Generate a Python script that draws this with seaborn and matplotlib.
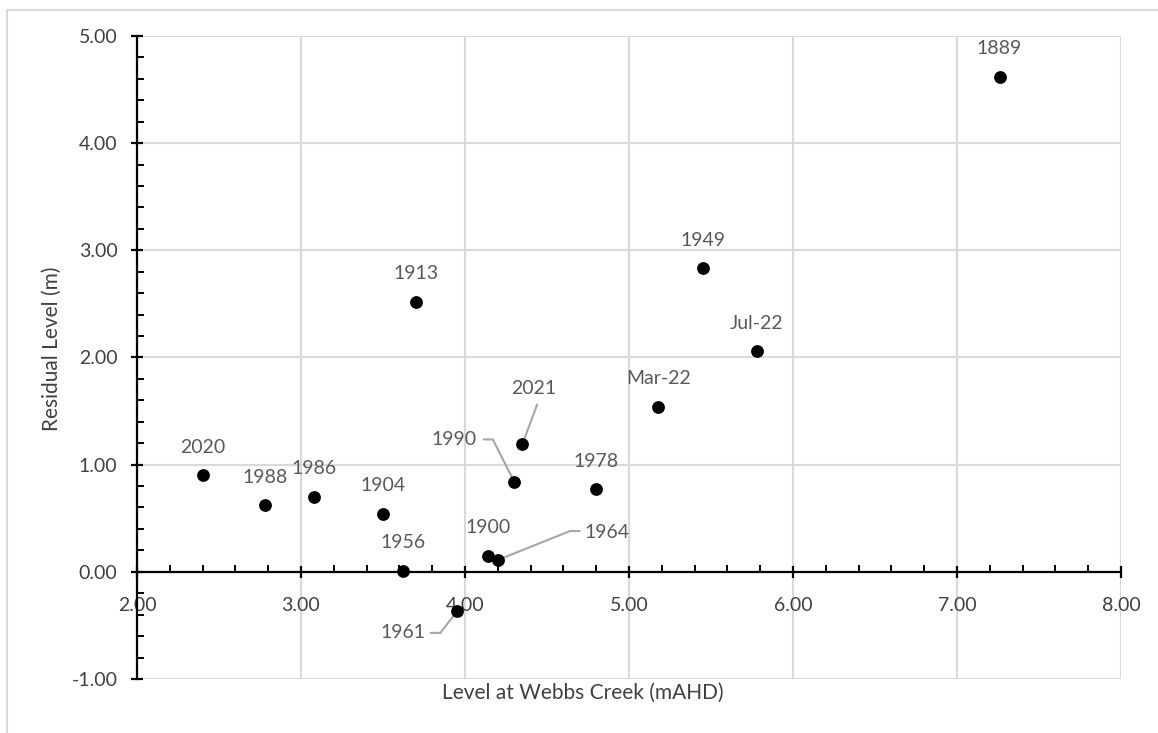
import pandas as pd
import matplotlib.pyplot as plt
import matplotlib.patches as mpatches
from matplotlib.ticker import MultipleLocator, FormatStrFormatter
import seaborn as sns

# events: level at Webbs Creek (mAHD) vs residual level (m)
labels = ['2020', '1988', '1986', '1904', '1956', '1961', '1900', '1964',
          '1990', '2021', '1978', 'Mar-22', '1949', 'Jul-22', '1913', '1889']
webbs_level = [2.40, 2.78, 3.08, 3.50, 3.62, 3.95, 4.14, 4.20,
               4.30, 4.35, 4.80, 5.18, 5.45, 5.78, 3.70, 7.26]
residual = [0.90, 0.62, 0.70, 0.54, 0.01, -0.37, 0.15, 0.11,
            0.84, 1.19, 0.77, 1.54, 2.83, 2.06, 2.52, 4.62]

# labels that sit away from their point with a leader line: text position + elbow
leader_labels = {
    '1990': ((4.07, 1.235), 'right', [(4.115, 1.235), (4.17, 1.235)]),
    '2021': ((4.42, 1.71), 'center', [(4.44, 1.56)]),
    '1964': ((4.73, 0.37), 'left', [(4.70, 0.38), (4.64, 0.38)]),
    '1961': ((3.76, -0.57), 'right', [(3.79, -0.57), (3.85, -0.57)]),
}

df = pd.DataFrame({'label': labels, 'x': webbs_level, 'y': residual})

sns.set_style("white")
plt.rcParams['font.family'] = ['Lato', 'DejaVu Sans']

fig = plt.figure(figsize=(11.58, 7.33), dpi=100)
ax = fig.add_axes([0.1183, 0.0737, 0.968 - 0.1183, 0.951 - 0.0737])

# outer chart border
fig.patches.append(mpatches.Rectangle((7 / 1158, -0.1), 1.2, 1.1 - 10 / 733,
                                      transform=fig.transFigure, fill=False,
                                      edgecolor='#d9d9d9', linewidth=1.5))

sns.scatterplot(data=df, x='x', y='y', ax=ax, color='black', s=85,
                edgecolor='black', linewidth=0, zorder=5)

ax.set_xlim(2, 8)
ax.set_ylim(-1, 5)
ax.xaxis.set_major_locator(MultipleLocator(1))
ax.xaxis.set_minor_locator(MultipleLocator(0.2))
ax.yaxis.set_major_locator(MultipleLocator(1))
ax.yaxis.set_minor_locator(MultipleLocator(0.2))
ax.xaxis.set_major_formatter(FormatStrFormatter('%.2f'))
ax.yaxis.set_major_formatter(FormatStrFormatter('%.2f'))

ax.grid(True, which='major', color='#d9d9d9', linewidth=1.5, zorder=0)
ax.set_axisbelow(True)
ax.spines['top'].set_visible(False)
ax.spines['right'].set_visible(False)
ax.spines['bottom'].set_position(('data', 0))
for sp in ('left', 'bottom'):
    ax.spines[sp].set_color('black')
    ax.spines[sp].set_linewidth(1.6)
    ax.spines[sp].set_zorder(4)

ax.tick_params(which='both', bottom=True, left=True, top=False, right=False)
ax.tick_params(which='major', direction='inout', length=8, width=1.6,
               color='black', labelsize=14, labelcolor='#404040')
ax.tick_params(which='minor', direction='in', length=5, width=1.4, color='black')
ax.tick_params(axis='y', which='major', pad=10)
ax.tick_params(axis='x', which='major', pad=14)

ax.set_xlabel('')
ax.set_ylabel('')
fig.text(583 / 1158, 1 - 693 / 733, 'Level at Webbs Creek (mAHD)',
         ha='center', va='center', fontsize=15, color='#404040')
fig.text(52 / 1158, 1 - 349 / 733, 'Residual Level (m)', rotation=90,
         ha='center', va='center', fontsize=15, color='#404040')

for lab, x, y in zip(labels, webbs_level, residual):
    if lab in leader_labels:
        (tx, ty), ha, elbow = leader_labels[lab]
        ax.text(tx, ty, lab, ha=ha, va='center', fontsize=14, color='#595959', zorder=6)
        xs = [p[0] for p in elbow] + [x]
        ys = [p[1] for p in elbow] + [y]
        ax.plot(xs, ys, color='#a6a6a6', linewidth=1.5, zorder=3)
    else:
        ax.annotate(lab, (x, y), xytext=(0, 28), textcoords='offset pixels',
                    ha='center', va='center', fontsize=14, color='#595959', zorder=6)

fig.savefig('out.png', dpi=100)
